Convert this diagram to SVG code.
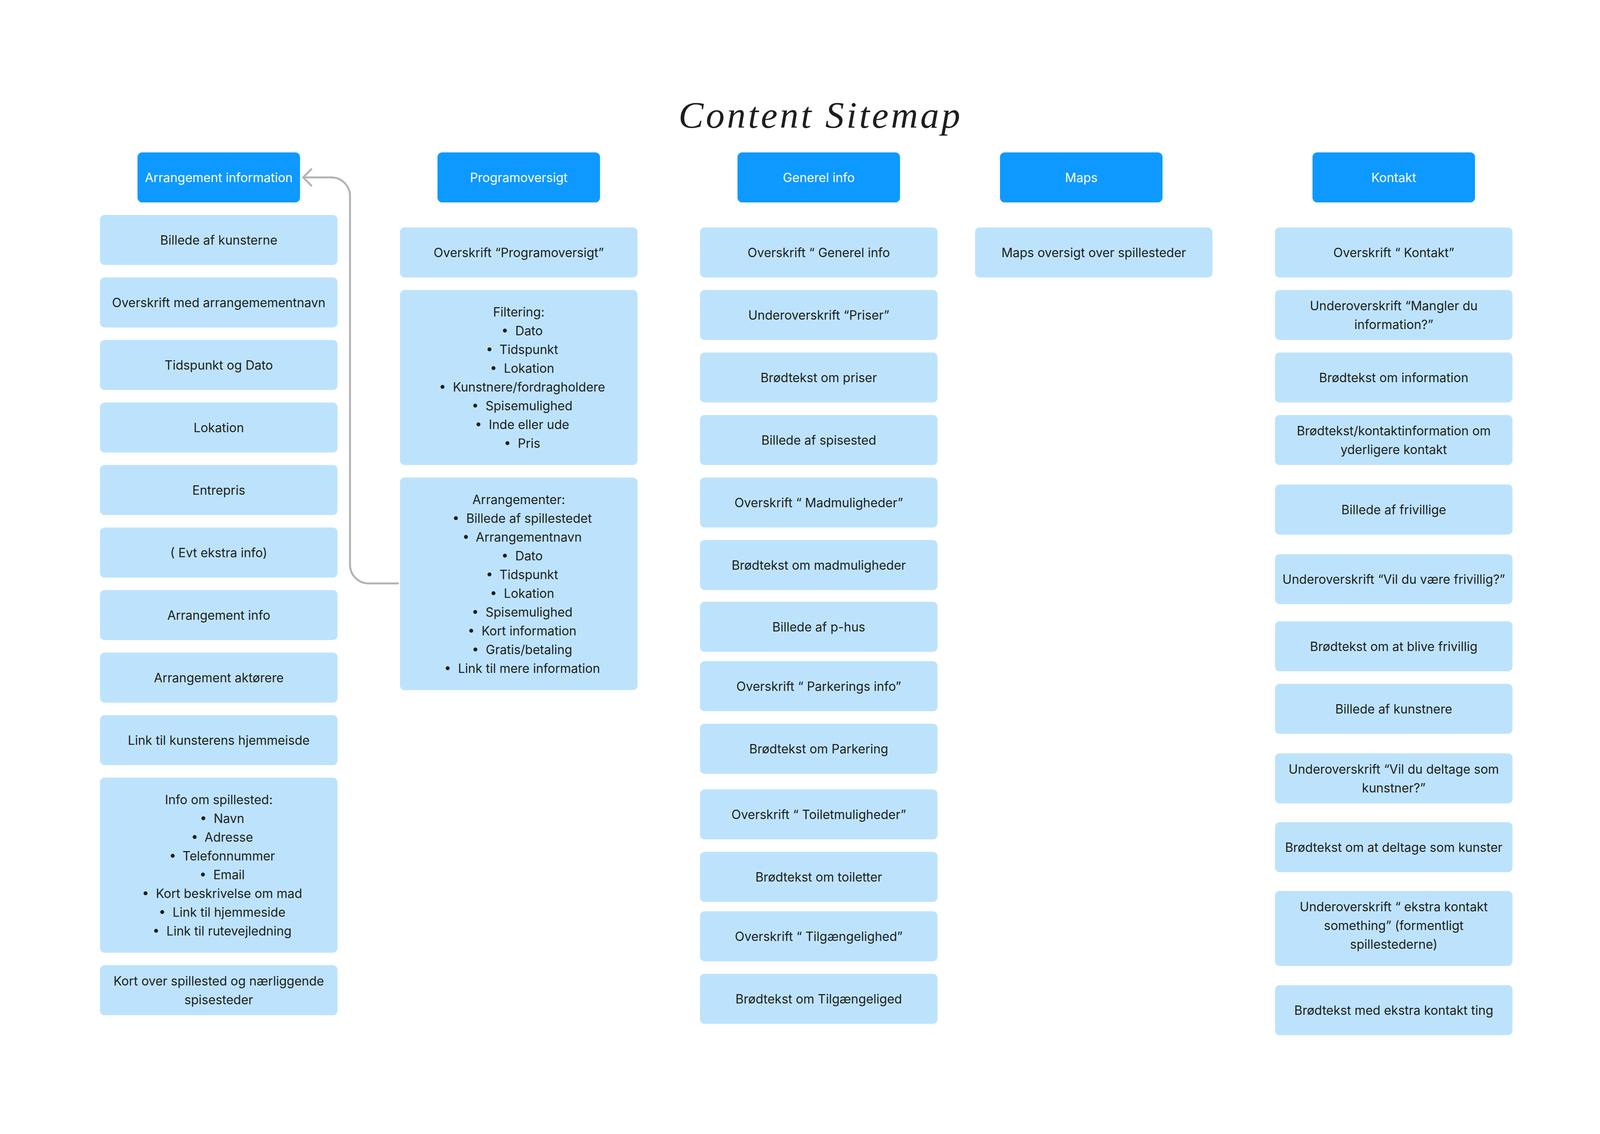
<svg xmlns="http://www.w3.org/2000/svg" width="4128" height="2902" viewBox="0 0 4128 2902">
<defs>
<style>
text{font-family:Inter,"Noto Sans","Liberation Sans",sans-serif;font-size:32px;fill:#1e1e1e;text-anchor:middle}
.hdr rect{fill:#0d99ff}
.hdr text{fill:#ffffff}
.itm rect{fill:#bde3fc}
.title{font-family:"Liberation Serif",serif;font-style:italic;font-size:96px;text-anchor:start;fill:#1e1e1e}
.conn{fill:none;stroke:#b3b3b3;stroke-width:5;stroke-linecap:round;stroke-linejoin:round}
</style>
<marker id="chev" markerUnits="userSpaceOnUse" orient="auto" refX="0" refY="0" overflow="visible" markerWidth="1" markerHeight="1">
<path d="M -21 -21 L 0 0 L -21 21" fill="none" stroke="#b3b3b3" stroke-width="5" stroke-linecap="round" stroke-linejoin="round"/>
</marker>
</defs>
<rect width="4128" height="2902" fill="#ffffff"/>
<text class="title" x="1737" y="327" textLength="721" lengthAdjust="spacing">Content Sitemap</text>

<g id="connectors">
<path class="conn" d="M 1019 1493 H 944 A 48 48 0 0 1 896 1445 V 502 A 48 48 0 0 0 848 454 H 776" marker-end="url(#chev)"/>
</g>

<!-- Headers -->
<g id="h-arrangement" class="hdr"><rect x="352" y="390" width="416" height="128" rx="12"/><text x="560" y="465.5">Arrangement information</text></g>
<g id="h-program" class="hdr"><rect x="1120" y="390" width="416" height="128" rx="12"/><text x="1328" y="465.5">Programoversigt</text></g>
<g id="h-generel" class="hdr"><rect x="1888" y="390" width="416" height="128" rx="12"/><text x="2096" y="465.5">Generel info</text></g>
<g id="h-maps" class="hdr"><rect x="2560" y="390" width="416" height="128" rx="12"/><text x="2768" y="465.5">Maps</text></g>
<g id="h-kontakt" class="hdr"><rect x="3360" y="390" width="416" height="128" rx="12"/><text x="3568" y="465.5">Kontakt</text></g>

<!-- Column 1 -->
<g id="c1-1" class="itm"><rect x="256" y="550" width="608" height="128" rx="12"/><text x="560" y="625.5">Billede af kunsterne</text></g>
<g id="c1-2" class="itm"><rect x="256" y="710" width="608" height="128" rx="12"/><text x="560" y="785.5">Overskrift med arrangemementnavn</text></g>
<g id="c1-3" class="itm"><rect x="256" y="870" width="608" height="128" rx="12"/><text x="560" y="945.5">Tidspunkt og Dato</text></g>
<g id="c1-4" class="itm"><rect x="256" y="1030" width="608" height="128" rx="12"/><text x="560" y="1105.5">Lokation</text></g>
<g id="c1-5" class="itm"><rect x="256" y="1190" width="608" height="128" rx="12"/><text x="560" y="1265.5">Entrepris</text></g>
<g id="c1-6" class="itm"><rect x="256" y="1350" width="608" height="128" rx="12"/><text x="560" y="1425.5">( Evt ekstra info)</text></g>
<g id="c1-7" class="itm"><rect x="256" y="1510" width="608" height="128" rx="12"/><text x="560" y="1585.5">Arrangement info</text></g>
<g id="c1-8" class="itm"><rect x="256" y="1670" width="608" height="128" rx="12"/><text x="560" y="1745.5">Arrangement aktørere</text></g>
<g id="c1-9" class="itm"><rect x="256" y="1830" width="608" height="128" rx="12"/><text x="560" y="1905.5">Link til kunsterens hjemmeisde</text></g>
<g id="c1-10" class="itm"><rect x="256" y="1990" width="608" height="448" rx="12"/>
<text x="560" y="2057.5">Info om spillested:</text>
<text x="568.5" y="2105.5"><tspan>•</tspan><tspan dx="17.5">Navn</tspan></text>
<text x="568.5" y="2153.5"><tspan>•</tspan><tspan dx="17.5">Adresse</tspan></text>
<text x="568.5" y="2201.5"><tspan>•</tspan><tspan dx="17.5">Telefonnummer</tspan></text>
<text x="568.5" y="2249.5"><tspan>•</tspan><tspan dx="17.5">Email</tspan></text>
<text x="568.5" y="2297.5"><tspan>•</tspan><tspan dx="17.5">Kort beskrivelse om mad</tspan></text>
<text x="568.5" y="2345.5"><tspan>•</tspan><tspan dx="17.5">Link til hjemmeside</tspan></text>
<text x="568.5" y="2393.5"><tspan>•</tspan><tspan dx="17.5">Link til rutevejledning</tspan></text>
</g>
<g id="c1-11" class="itm"><rect x="256" y="2470" width="608" height="128" rx="12"/><text x="560" y="2521.5">Kort over spillested og nærliggende</text><text x="560" y="2569.5">spisesteder</text></g>

<!-- Column 2 -->
<g id="c2-1" class="itm"><rect x="1024" y="582" width="608" height="128" rx="12"/><text x="1328" y="657.5">Overskrift “Programoversigt”</text></g>
<g id="c2-2" class="itm"><rect x="1024" y="742" width="608" height="448" rx="12"/>
<text x="1328" y="809.5">Filtering:</text>
<text x="1336.5" y="857.5"><tspan>•</tspan><tspan dx="17.5">Dato</tspan></text>
<text x="1336.5" y="905.5"><tspan>•</tspan><tspan dx="17.5">Tidspunkt</tspan></text>
<text x="1336.5" y="953.5"><tspan>•</tspan><tspan dx="17.5">Lokation</tspan></text>
<text x="1336.5" y="1001.5"><tspan>•</tspan><tspan dx="17.5">Kunstnere/fordragholdere</tspan></text>
<text x="1336.5" y="1049.5"><tspan>•</tspan><tspan dx="17.5">Spisemulighed</tspan></text>
<text x="1336.5" y="1097.5"><tspan>•</tspan><tspan dx="17.5">Inde eller ude</tspan></text>
<text x="1336.5" y="1145.5"><tspan>•</tspan><tspan dx="17.5">Pris</tspan></text>
</g>
<g id="c2-3" class="itm"><rect x="1024" y="1222" width="608" height="544" rx="12"/>
<text x="1328" y="1289.5">Arrangementer:</text>
<text x="1336.5" y="1337.5"><tspan>•</tspan><tspan dx="17.5">Billede af spillestedet</tspan></text>
<text x="1336.5" y="1385.5"><tspan>•</tspan><tspan dx="17.5">Arrangementnavn</tspan></text>
<text x="1336.5" y="1433.5"><tspan>•</tspan><tspan dx="17.5">Dato</tspan></text>
<text x="1336.5" y="1481.5"><tspan>•</tspan><tspan dx="17.5">Tidspunkt</tspan></text>
<text x="1336.5" y="1529.5"><tspan>•</tspan><tspan dx="17.5">Lokation</tspan></text>
<text x="1336.5" y="1577.5"><tspan>•</tspan><tspan dx="17.5">Spisemulighed</tspan></text>
<text x="1336.5" y="1625.5"><tspan>•</tspan><tspan dx="17.5">Kort information</tspan></text>
<text x="1336.5" y="1673.5"><tspan>•</tspan><tspan dx="17.5">Gratis/betaling</tspan></text>
<text x="1336.5" y="1721.5"><tspan>•</tspan><tspan dx="17.5">Link til mere information</tspan></text>
</g>

<!-- Column 3 -->
<g id="c3-1" class="itm"><rect x="1792" y="582" width="608" height="128" rx="12"/><text x="2096" y="657.5">Overskrift “ Generel info</text></g>
<g id="c3-2" class="itm"><rect x="1792" y="742" width="608" height="128" rx="12"/><text x="2096" y="817.5">Underoverskrift “Priser”</text></g>
<g id="c3-3" class="itm"><rect x="1792" y="902" width="608" height="128" rx="12"/><text x="2096" y="977.5">Brødtekst om priser</text></g>
<g id="c3-4" class="itm"><rect x="1792" y="1062" width="608" height="128" rx="12"/><text x="2096" y="1137.5">Billede af spisested</text></g>
<g id="c3-5" class="itm"><rect x="1792" y="1222" width="608" height="128" rx="12"/><text x="2096" y="1297.5">Overskrift “ Madmuligheder”</text></g>
<g id="c3-6" class="itm"><rect x="1792" y="1382" width="608" height="128" rx="12"/><text x="2096" y="1457.5">Brødtekst om madmuligheder</text></g>
<g id="c3-7" class="itm"><rect x="1792" y="1540" width="608" height="128" rx="12"/><text x="2096" y="1615.5">Billede af p-hus</text></g>
<g id="c3-8" class="itm"><rect x="1792" y="1692" width="608" height="128" rx="12"/><text x="2096" y="1767.5">Overskrift “ Parkerings info”</text></g>
<g id="c3-9" class="itm"><rect x="1792" y="1852" width="608" height="128" rx="12"/><text x="2096" y="1927.5">Brødtekst om Parkering</text></g>
<g id="c3-10" class="itm"><rect x="1792" y="2020" width="608" height="128" rx="12"/><text x="2096" y="2095.5">Overskrift “ Toiletmuligheder”</text></g>
<g id="c3-11" class="itm"><rect x="1792" y="2180" width="608" height="128" rx="12"/><text x="2096" y="2255.5">Brødtekst om toiletter</text></g>
<g id="c3-12" class="itm"><rect x="1792" y="2332" width="608" height="128" rx="12"/><text x="2096" y="2407.5">Overskrift “ Tilgængelighed”</text></g>
<g id="c3-13" class="itm"><rect x="1792" y="2492" width="608" height="128" rx="12"/><text x="2096" y="2567.5">Brødtekst om Tilgængeliged</text></g>

<!-- Column 4 -->
<g id="c4-1" class="itm"><rect x="2496" y="582" width="608" height="128" rx="12"/><text x="2800" y="657.5">Maps oversigt over spillesteder</text></g>

<!-- Column 5 -->
<g id="c5-1" class="itm"><rect x="3264" y="582" width="608" height="128" rx="12"/><text x="3568" y="657.5">Overskrift “ Kontakt”</text></g>
<g id="c5-2" class="itm"><rect x="3264" y="742" width="608" height="128" rx="12"/><text x="3568" y="793.5">Underoverskrift “Mangler du</text><text x="3568" y="841.5">information?”</text></g>
<g id="c5-3" class="itm"><rect x="3264" y="902" width="608" height="128" rx="12"/><text x="3568" y="977.5">Brødtekst om information</text></g>
<g id="c5-4" class="itm"><rect x="3264" y="1062" width="608" height="128" rx="12"/><text x="3568" y="1113.5">Brødtekst/kontaktinformation om</text><text x="3568" y="1161.5">yderligere kontakt</text></g>
<g id="c5-5" class="itm"><rect x="3264" y="1240" width="608" height="128" rx="12"/><text x="3568" y="1315.5">Billede af frivillige</text></g>
<g id="c5-6" class="itm"><rect x="3264" y="1418" width="608" height="128" rx="12"/><text x="3568" y="1493.5">Underoverskrift “Vil du være frivillig?”</text></g>
<g id="c5-7" class="itm"><rect x="3264" y="1590" width="608" height="128" rx="12"/><text x="3568" y="1665.5">Brødtekst om at blive frivillig</text></g>
<g id="c5-8" class="itm"><rect x="3264" y="1750" width="608" height="128" rx="12"/><text x="3568" y="1825.5">Billede af kunstnere</text></g>
<g id="c5-9" class="itm"><rect x="3264" y="1928" width="608" height="128" rx="12"/><text x="3568" y="1979.5">Underoverskrift “Vil du deltage som</text><text x="3568" y="2027.5">kunstner?”</text></g>
<g id="c5-10" class="itm"><rect x="3264" y="2104" width="608" height="128" rx="12"/><text x="3568" y="2179.5">Brødtekst om at deltage som kunster</text></g>
<g id="c5-11" class="itm"><rect x="3264" y="2280" width="608" height="192" rx="12"/><text x="3568" y="2331.5">Underoverskrift “ ekstra kontakt</text><text x="3568" y="2379.5">something” (formentligt</text><text x="3568" y="2427.5">spillestederne)</text></g>
<g id="c5-12" class="itm"><rect x="3264" y="2521" width="608" height="128" rx="12"/><text x="3568" y="2596.5">Brødtekst med ekstra kontakt ting</text></g>
</svg>
